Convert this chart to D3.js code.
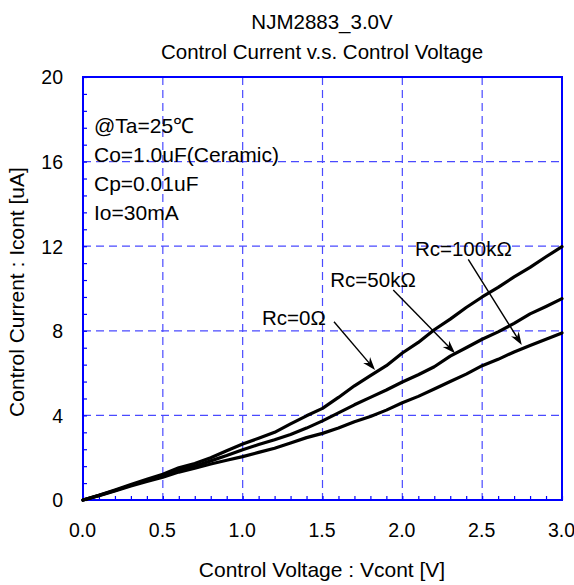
<!DOCTYPE html>
<html>
<head>
<meta charset="utf-8">
<script src="https://cdn.jsdelivr.net/npm/d3@7"></script>
<style>
  html, body { margin: 0; padding: 0; background: #fff; }
  svg { display: block; }
  text { font-family: "Liberation Sans", Arial, sans-serif; fill: #000; }
</style>
</head>
<body>
<svg id="chart" width="574" height="585"></svg>
<script>
// ---- data ----
const voltages = [0.0,0.1,0.2,0.3,0.4,0.5,0.6,0.7,0.8,0.9,1.0,1.1,1.2,1.3,1.4,1.5,1.6,1.7,1.8,1.9,2.0,2.1,2.2,2.3,2.4,2.5,2.6,2.7,2.8,2.9,3.0];
const rc0 = [0,0.22,0.47,0.73,0.98,1.22,1.52,1.72,2.0,2.33,2.65,2.92,3.2,3.6,3.98,4.33,4.85,5.4,5.88,6.35,6.95,7.45,8.05,8.55,9.1,9.6,10.05,10.55,11.0,11.5,11.98];
const rc50k = [0,0.22,0.45,0.7,0.93,1.15,1.42,1.6,1.85,2.1,2.38,2.62,2.85,3.1,3.4,3.74,4.12,4.5,4.85,5.2,5.58,5.92,6.3,6.8,7.2,7.6,7.95,8.35,8.8,9.15,9.52];
const rc100k = [0,0.2,0.43,0.66,0.88,1.08,1.32,1.5,1.7,1.88,2.05,2.25,2.45,2.7,2.95,3.15,3.4,3.7,3.95,4.25,4.6,4.9,5.25,5.6,5.95,6.35,6.65,7.0,7.3,7.6,7.9];
const seriesNames = ["Rc=0Ω", "Rc=50kΩ", "Rc=100kΩ"];
const xTicks = [0, 0.5, 1.0, 1.5, 2.0, 2.5, 3.0];
const yTicks = [0, 4, 8, 12, 16, 20];
const titleLines = ["NJM2883_3.0V", "Control Current v.s. Control Voltage"];
const xTitle = "Control Voltage : Vcont [V]";
const yTitle = "Control Current : Icont [uA]";
const conditions = ["@Ta=25℃", "Co=1.0uF(Ceramic)", "Cp=0.01uF", "Io=30mA"];
// label anchor (text start, baseline) and arrow (from -> tip) in data units
const labelPos = [[1.121, 8.27], [1.549, 10.06], [2.079, 11.54]];
const arrowFrom = [[1.572, 8.43], [1.943, 9.93], [2.413, 11.38]];
const arrowTip = [[1.829, 6.15], [2.33, 6.94], [2.748, 7.33]];

// ---- layout ----
const L = 83, R = 562, T = 77, B = 500;
const svg = d3.select("#chart");
const x = d3.scaleLinear().domain([0, 3]).range([L, R]);
const y = d3.scaleLinear().domain([0, 20]).range([B, T]);
const gridColor = "#4a4aff";
const axisColor = "#0000ff";

// grid
svg.append("g").selectAll("line").data(xTicks.filter(d => d > 0 && d < 3)).join("line")
  .attr("x1", d => x(d)).attr("x2", d => x(d)).attr("y1", T).attr("y2", B)
  .attr("stroke", gridColor).attr("stroke-width", 1.2).attr("stroke-dasharray", "8,5");
svg.append("g").selectAll("line").data(yTicks.filter(d => d > 0 && d < 20)).join("line")
  .attr("y1", d => y(d)).attr("y2", d => y(d)).attr("x1", L).attr("x2", R)
  .attr("stroke", gridColor).attr("stroke-width", 1.2).attr("stroke-dasharray", "8,5");

// minor ticks via axes
const xMinor = d3.range(0, 31).map(i => i / 10);
const yMinor = d3.range(0, 26).map(i => i * 0.8);
const gx = svg.append("g").attr("transform", `translate(0,${B})`)
  .call(d3.axisTop(x).tickValues(xMinor).tickSize(4).tickFormat(""));
gx.select(".domain").remove();
gx.selectAll("line").attr("stroke", axisColor).attr("stroke-width", 1.2);
const gy = svg.append("g").attr("transform", `translate(${L},0)`)
  .call(d3.axisRight(y).tickValues(yMinor).tickSize(4).tickFormat(""));
gy.select(".domain").remove();
gy.selectAll("line").attr("stroke", axisColor).attr("stroke-width", 1.2);

// plot box
svg.append("rect").attr("x", L).attr("y", T).attr("width", R - L).attr("height", B - T)
  .attr("fill", "none").attr("stroke", axisColor).attr("stroke-width", 2);

// tick labels
const gxl = svg.append("g").attr("transform", `translate(0,${B})`)
  .call(d3.axisBottom(x).tickValues(xTicks).tickSize(0).tickPadding(0).tickFormat(d3.format(".1f")));
gxl.select(".domain").remove();
gxl.selectAll("text").attr("y", 37).attr("dy", 0).attr("dx", -1)
  .style("font-size", "19.5px").style("font-family", "'Liberation Sans', Arial, sans-serif").attr("fill", "#000");
const gyl = svg.append("g").attr("transform", `translate(${L},0)`)
  .call(d3.axisLeft(y).tickValues(yTicks).tickSize(0).tickPadding(20).tickFormat(d3.format("d")));
gyl.select(".domain").remove();
gyl.selectAll("text").attr("dy", "0.35em")
  .style("font-size", "19.5px").style("font-family", "'Liberation Sans', Arial, sans-serif").attr("fill", "#000");

// series lines
const line = d3.line().x((d, i) => x(voltages[i])).y(d => y(d)).curve(d3.curveLinear);
[rc0, rc50k, rc100k].forEach(s => {
  svg.append("path").datum(s).attr("d", line)
    .attr("fill", "none").attr("stroke", "#000").attr("stroke-width", 3.2)
    .attr("stroke-linejoin", "round").attr("stroke-linecap", "round");
});

// annotations
seriesNames.forEach((name, i) => {
  svg.append("text").attr("x", x(labelPos[i][0])).attr("y", y(labelPos[i][1]))
    .style("font-size", "20.5px").text(name);
  const x1 = x(arrowFrom[i][0]), y1 = y(arrowFrom[i][1]);
  const x2 = x(arrowTip[i][0]), y2 = y(arrowTip[i][1]);
  const ang = Math.atan2(y2 - y1, x2 - x1);
  const hl = 13, hw = 4.5;
  const bx = x2 - hl * Math.cos(ang), by = y2 - hl * Math.sin(ang);
  svg.append("line").attr("x1", x1).attr("y1", y1)
    .attr("x2", x2 - 3 * Math.cos(ang)).attr("y2", y2 - 3 * Math.sin(ang))
    .attr("stroke", "#000").attr("stroke-width", 1.4);
  const px = -Math.sin(ang), py = Math.cos(ang);
  const nx = x2 - (hl - 4) * Math.cos(ang), ny = y2 - (hl - 4) * Math.sin(ang);
  svg.append("path")
    .attr("d", `M${x2},${y2} L${bx + px * hw},${by + py * hw} L${nx},${ny} L${bx - px * hw},${by - py * hw} Z`)
    .attr("fill", "#000");
});

// condition text
svg.append("g").selectAll("text").data(conditions).join("text")
  .attr("x", 94).attr("y", (d, i) => 133 + i * 29)
  .style("font-size", "21px").text(d => d);

// titles
svg.append("g").selectAll("text").data(titleLines).join("text")
  .attr("x", 322).attr("y", (d, i) => 29 + i * 30).attr("text-anchor", "middle")
  .style("font-size", "20.5px").text(d => d);
svg.append("text").attr("x", 322).attr("y", 577).attr("text-anchor", "middle")
  .style("font-size", "21px").text(xTitle);
svg.append("text").attr("transform", "translate(24,292) rotate(-90)").attr("text-anchor", "middle")
  .style("font-size", "21px").text(yTitle);
</script>
</body>
</html>
